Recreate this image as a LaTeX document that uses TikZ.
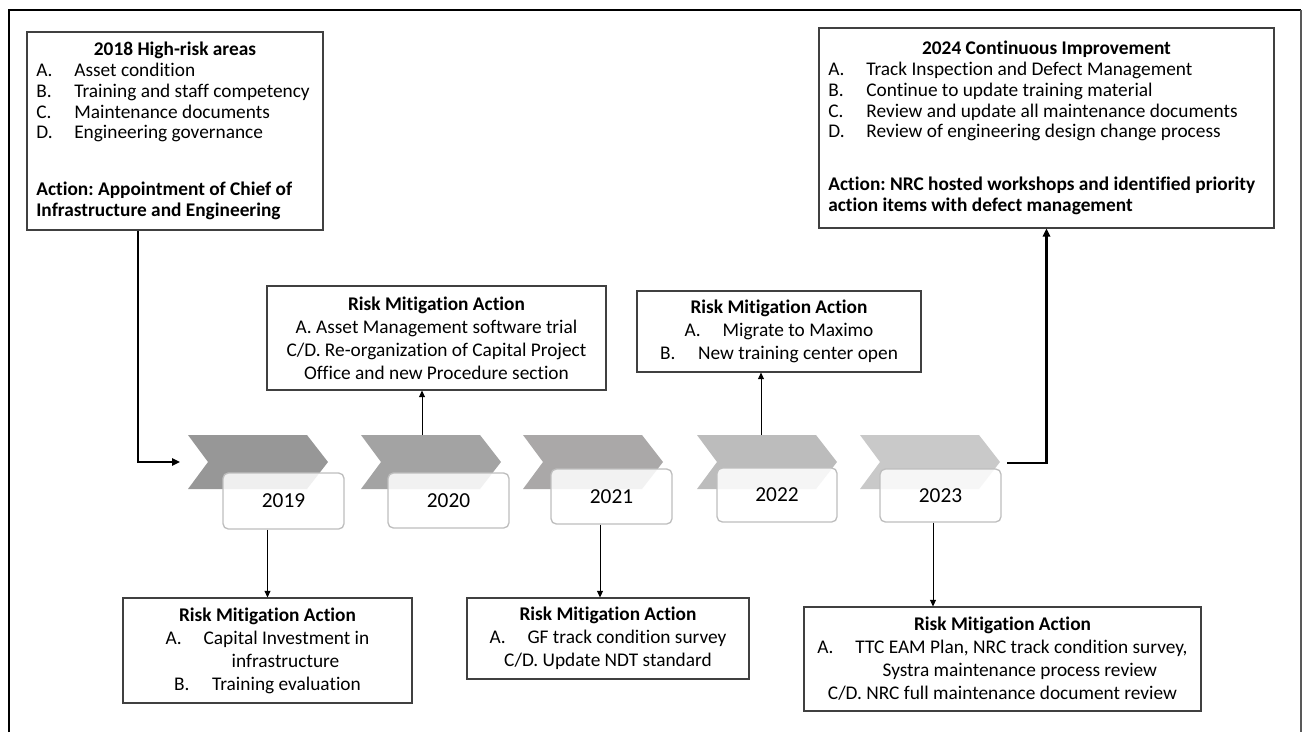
\documentclass[tikz,border=0pt]{standalone}
\usepackage{fontspec}
\setmainfont[Ligatures=NoCommon]{Carlito}
\usepackage{tikz}
\usetikzlibrary{arrows.meta, calc}
\usepackage{xcolor}

\definecolor{boxgray}{RGB}{64,64,64}
\definecolor{yeargray}{RGB}{190,190,190}
\definecolor{chevA}{RGB}{151,151,151}
\definecolor{chevB}{RGB}{163,163,163}
\definecolor{chevC}{RGB}{170,168,168}
\definecolor{chevD}{RGB}{188,188,188}
\definecolor{chevE}{RGB}{201,201,201}

\newcommand{\lbl}[1]{\makebox[28.5pt][l]{#1}}
\frenchspacing

\begin{document}
\begin{tikzpicture}[
  x=0.75pt, y=-0.75pt,
  font=\fontsize{14.5}{17.25}\selectfont,
  box/.style={draw=boxgray, line width=0.8pt, inner sep=0pt, align=center},
  listbox/.style={box, align=flush left, inner xsep=7pt,
                  font=\fontsize{14.5}{15.6}\selectfont},
  year/.style={draw=yeargray, line width=1pt, rounded corners=4pt, fill=white,
               fill opacity=0.85, text opacity=1, inner sep=0pt,
               font=\fontsize{16}{19}\selectfont},
  arrow/.style={-{Triangle[length=5pt,width=4.5pt]}, line width=0.6pt},
  bigarrow/.style={-{Triangle[length=6pt,width=5.5pt]}, line width=1.6pt}
]
\useasboundingbox (0,0) rectangle (1303,732);

%% frame
\draw[line width=2.2pt] (9,732) -- (9,10) -- (1301,10);
\draw[line width=1.4pt, black!65] (1301,10) -- (1301,732);

%% 2018 and 2024 boxes
\node[listbox, text width=208pt, minimum height=148.5pt] (hr) at (175,131) {%
  \makebox[\linewidth]{\textbf{2018 High-risk areas}}\\
  \lbl{A.}Asset condition\\
  \lbl{B.}Training and staff competency\\
  \lbl{C.}Maintenance documents\\
  \lbl{D.}Engineering governance\\[27pt]
  \textbf{Action: Appointment of Chief of}\\
  \textbf{Infrastructure and Engineering}};

\node[listbox, text width=327.25pt, minimum height=150pt] (ci) at (1046.5,128) {%
  \makebox[\linewidth]{\textbf{2024 Continuous Improvement}}\\
  \lbl{A.}Track Inspection and Defect Management\\
  \lbl{B.}Continue to update training material\\
  \lbl{C.}Review and update all maintenance documents\\
  \lbl{D.}Review of engineering design change process\\[24pt]
  \textbf{Action: NRC hosted workshops and identified priority}\\
  \textbf{action items with defect management}};

%% chevrons
\fill[chevA] (188,435) -- (307,435) -- (328,462) -- (307,489) -- (188,489) -- (208,462) -- cycle;
\fill[chevB] (361,435) -- (480,435) -- (501,462) -- (480,489) -- (361,489) -- (381,462) -- cycle;
\fill[chevC] (523,435) -- (642,435) -- (663,462) -- (642,489) -- (523,489) -- (543,462) -- cycle;
\fill[chevD] (697,435) -- (816,435) -- (837,462) -- (816,489) -- (697,489) -- (717,462) -- cycle;
\fill[chevE] (860,435) -- (979,435) -- (1000,462) -- (979,489) -- (860,489) -- (880,462) -- cycle;
\coordinate (c1in)  at (180,462);
\coordinate (c2)    at (422,435);
\coordinate (c4)    at (761,435);
\coordinate (c5out) at (1007,463);

%% years
\node[year, minimum width=90.75pt, minimum height=42pt]   (y19) at (283.5,501) {2019};
\node[year, minimum width=90.75pt, minimum height=41.25pt] (y20) at (448.5,500.5) {2020};
\node[year, minimum width=90.75pt, minimum height=41.25pt] (y21) at (611.5,496.5) {2021};
\node[year, minimum width=90pt,    minimum height=40.5pt]  (y22) at (777,495) {2022};
\node[year, minimum width=90.75pt, minimum height=39.75pt] (y23) at (940.5,495.5) {2023};
\coordinate (y21out) at ($(y21.south)+(-11.5,0)$);
\coordinate (y23out) at ($(y23.south)+(-7.5,0)$);

%% risk mitigation boxes
\node[box, minimum width=254.25pt, minimum height=78pt] (m20) at (436.5,338) {%
  \textbf{Risk Mitigation Action}\\
  A. Asset Management software trial\\
  C/D. Re-organization of Capital Project\\
  Office and new Procedure section};

\node[box, minimum width=213pt, minimum height=60.75pt] (m22) at (779,331.5) {%
  \textbf{Risk Mitigation Action}\\
  \lbl{A.}Migrate to Maximo\\
  \lbl{B.}New training center open};

\node[box, minimum width=216.75pt, minimum height=78.75pt] (b19) at (267.5,650.5) {%
  \textbf{Risk Mitigation Action}\\
  \lbl{A.}Capital Investment in\\
  \hspace{27pt}infrastructure\\
  \lbl{B.}Training evaluation};

\node[box, minimum width=211.5pt, minimum height=60.75pt] (b21) at (608,638.5) {%
  \textbf{Risk Mitigation Action}\\
  \lbl{A.}GF track condition survey\\
  C/D. Update NDT standard};

\node[box, minimum width=297.75pt, minimum height=78pt] (b23) at (1002.5,659) {%
  \textbf{Risk Mitigation Action}\\
  \lbl{A.}TTC EAM Plan, NRC track condition survey,\\
  \hspace{26pt}Systra maintenance process review\\
  C/D. NRC full maintenance document review};

%% connectors
\draw[bigarrow] ($(hr.south)+(-37,0)$) |- (c1in);
\draw[bigarrow] (c5out) -| (ci.south);
\draw[arrow] (c2) -- (c2 |- m20.south);
\draw[arrow] (c4) -- (c4 |- m22.south);
\draw[arrow] (b19.north |- y19.south) -- (b19.north);
\draw[arrow] (y21out) -- (y21out |- b21.north);
\draw[arrow] (y23out) -- (y23out |- b23.north);

\end{tikzpicture}
\end{document}
